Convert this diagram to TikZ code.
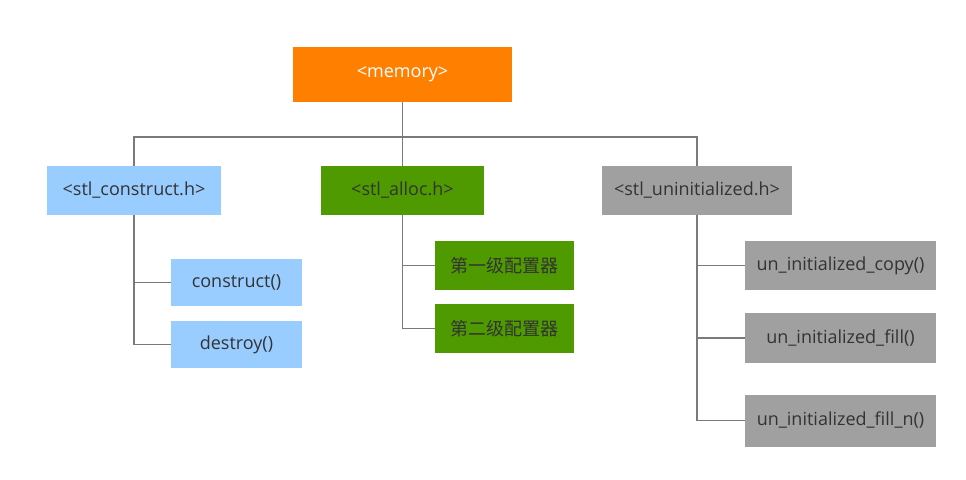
\documentclass[tikz,border=0pt]{standalone}
\usepackage{fontspec}
\setmainfont{Open Sans}
\newfontfamily\cjk{Noto Sans CJK SC}
\definecolor{orangec}{HTML}{FF8000}
\definecolor{bluec}{HTML}{99CCFF}
\definecolor{greenc}{HTML}{4E9A00}
\definecolor{grayc}{HTML}{A0A0A0}
\definecolor{linec}{HTML}{7A7A7A}
\definecolor{textc}{HTML}{333333}
\begin{document}
\begin{tikzpicture}[x=1pt,y=-1pt,
  box/.style={inner sep=0pt, font=\fontsize{18}{21}\selectfont, text=textc},
  conn/.style={draw=linec, line width=1.3pt}]
\useasboundingbox (0,0) rectangle (966,479);
% top
\node[box, fill=orangec, text=white, minimum width=219pt, minimum height=55pt] (mem) at (402.5,74.5) {<memory>};
% level 2
\node[box, fill=bluec, minimum width=174pt, minimum height=49pt] (cons) at (134,190.5) {<stl\_construct.h>};
\node[box, fill=greenc, minimum width=163pt, minimum height=49pt] (alloc) at (402.5,190.5) {<stl\_alloc.h>};
\node[box, fill=grayc, minimum width=190pt, minimum height=49pt] (unin) at (697,190.5) {<stl\_uninitialized.h>};
% level 3
\node[box, fill=bluec, minimum width=131pt, minimum height=47pt] (con) at (236.5,282.5) {construct()};
\node[box, fill=bluec, minimum width=131pt, minimum height=47pt] (des) at (236.5,344.5) {destroy()};
\node[box, fill=greenc, minimum width=139pt, minimum height=49pt] (first) at (504.5,265.5) {\cjk 第一级配置器};
\node[box, fill=greenc, minimum width=139pt, minimum height=49pt] (second) at (504.5,328.5) {\cjk 第二级配置器};
\node[box, fill=grayc, minimum width=191pt, minimum height=49pt] (copy) at (840.5,265.5) {un\_initialized\_copy()};
\node[box, fill=grayc, minimum width=191pt, minimum height=50pt] (fill) at (840.5,338) {un\_initialized\_fill()};
\node[box, fill=grayc, minimum width=191pt, minimum height=52pt] (filln) at (840.5,420.5) {un\_initialized\_fill\_n()};
% connectors
\coordinate (bus) at (402.5,137);
\draw[conn] (mem.south) -- (alloc.north);
\draw[conn] (cons.north) |- (bus) -| (unin.north);
\draw[conn] (cons.south) |- (des.west);
\draw[conn] (cons.south |- con.west) -- (con.west);
\draw[conn] (alloc.south) |- (second.west);
\draw[conn] (alloc.south |- first.west) -- (first.west);
\draw[conn] (unin.south) |- (filln.west);
\draw[conn] (unin.south |- copy.west) -- (copy.west);
\draw[conn] (unin.south |- fill.west) -- (fill.west);
\end{tikzpicture}
\end{document}
